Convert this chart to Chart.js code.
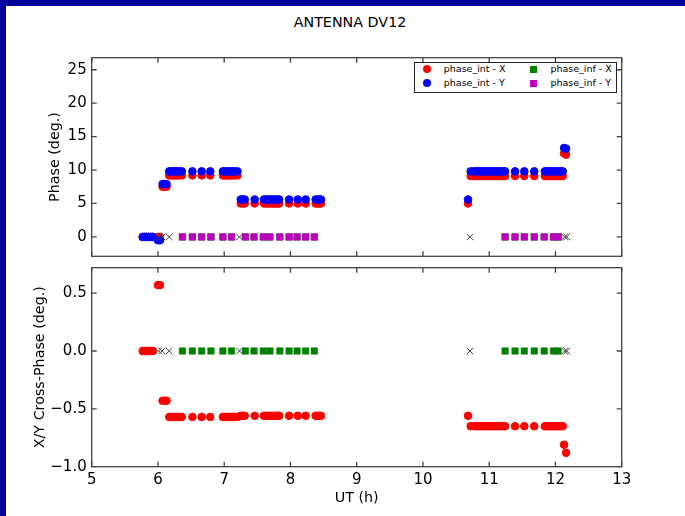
<!DOCTYPE html>
<html>
<head>
<meta charset="utf-8">
<title>ANTENNA DV12</title>
<script src="https://cdn.jsdelivr.net/npm/chart.js@4.4.1/dist/chart.umd.min.js"></script>
<style>
  body { margin: 0; background: #fff; font-family: 'DejaVu Sans', sans-serif; }
  #page { position: relative; width: 685px; height: 516px; overflow: hidden; background: #fff; }
  .edge { position: absolute; background: #00009c; z-index: 5; }
  #title { position: absolute; top: 14px; left: 0; width: 700px; text-align: center; font-size: 14.3px; line-height: 16px; color: #000; }
  canvas { position: absolute; left: 0; }
  #legend { position: absolute; left: 414px; top: 62px; width: 203px; height: 31px; box-sizing: border-box;
            border: 1.5px solid #222; background: #fff; z-index: 3; }
  #legend .mark { position: absolute; }
  #legend .txt { position: absolute; font-size: 9.5px; line-height: 12px; color: #000; white-space: nowrap; }
</style>
</head>
<body>
<div id="page">
  <div class="edge" style="left:0;top:0;width:685px;height:6px"></div>
  <div class="edge" style="left:0;top:0;width:6px;height:516px"></div>
  <div id="title">ANTENNA DV12</div>
  <canvas id="phaseChart" width="685" height="262" style="top:0"></canvas>
  <canvas id="crossChart" width="685" height="254" style="top:262px"></canvas>
  <div id="legend"></div>
</div>
<script>
// axis ticks
const xTicks = [5, 6, 7, 8, 9, 10, 11, 12, 13];
const phaseTicks = [0, 5, 10, 15, 20, 25];
const crossTicks = [-1.0, -0.5, 0.0, 0.5];

// interferometric solutions (UT hours)
const intTimes = [
  5.77, 5.80, 5.83, 5.86, 5.89, 5.92,
  6.00, 6.03,
  6.07, 6.10, 6.13,
  6.17, 6.20, 6.23, 6.26, 6.29, 6.32, 6.36,
  6.52, 6.66, 6.79,
  6.98, 7.01, 7.04, 7.07, 7.10, 7.13, 7.16, 7.20,
  7.25, 7.28, 7.31,
  7.46,
  7.60, 7.63, 7.66, 7.69, 7.72, 7.75, 7.78, 7.81, 7.83,
  7.98, 8.11, 8.23,
  8.38, 8.41, 8.44, 8.46,
  10.68,
  10.72, 10.77, 10.80, 10.83, 10.86, 10.89, 10.92, 10.95, 10.98, 11.01, 11.04, 11.07, 11.10, 11.13, 11.16, 11.19, 11.22, 11.24,
  11.39, 11.53, 11.68,
  11.84, 11.87, 11.90, 11.93, 11.96, 11.99, 12.02, 12.05, 12.08, 12.11,
  12.13, 12.16
];
const phaseIntX = [
  0, 0, 0, 0, 0, 0,
  0, 0,
  7.5, 7.5, 7.5,
  9.2, 9.2, 9.2, 9.2, 9.2, 9.2, 9.2,
  9.2, 9.2, 9.2,
  9.2, 9.2, 9.2, 9.2, 9.2, 9.2, 9.2, 9.2,
  5.0, 5.0, 5.0,
  5.0,
  5.0, 5.0, 5.0, 5.0, 5.0, 5.0, 5.0, 5.0, 5.0,
  5.0, 5.0, 5.0,
  5.0, 5.0, 5.0, 5.0,
  5.0,
  9.1, 9.1, 9.1, 9.1, 9.1, 9.1, 9.1, 9.1, 9.1, 9.1, 9.1, 9.1, 9.1, 9.1, 9.1, 9.1, 9.1, 9.1,
  9.1, 9.1, 9.1,
  9.1, 9.1, 9.1, 9.1, 9.1, 9.1, 9.1, 9.1, 9.1, 9.1,
  12.5, 12.3
];
const phaseIntY = [
  0, 0, 0, 0, 0, 0,
  -0.5, -0.5,
  7.9, 7.9, 7.9,
  9.8, 9.8, 9.8, 9.8, 9.8, 9.8, 9.8,
  9.8, 9.8, 9.8,
  9.8, 9.8, 9.8, 9.8, 9.8, 9.8, 9.8, 9.8,
  5.6, 5.6, 5.6,
  5.6,
  5.6, 5.6, 5.6, 5.6, 5.6, 5.6, 5.6, 5.6, 5.6,
  5.6, 5.6, 5.6,
  5.6, 5.6, 5.6, 5.6,
  5.6,
  9.8, 9.8, 9.8, 9.8, 9.8, 9.8, 9.8, 9.8, 9.8, 9.8, 9.8, 9.8, 9.8, 9.8, 9.8, 9.8, 9.8, 9.8,
  9.8, 9.8, 9.8,
  9.8, 9.8, 9.8, 9.8, 9.8, 9.8, 9.8, 9.8, 9.8, 9.8,
  13.3, 13.2
];
const crossInt = [
  0, 0, 0, 0, 0, 0,
  0.57, 0.57,
  -0.43, -0.43, -0.43,
  -0.57, -0.57, -0.57, -0.57, -0.57, -0.57, -0.57,
  -0.57, -0.57, -0.57,
  -0.57, -0.57, -0.57, -0.57, -0.57, -0.57, -0.57, -0.57,
  -0.56, -0.56, -0.56,
  -0.56,
  -0.56, -0.56, -0.56, -0.56, -0.56, -0.56, -0.56, -0.56, -0.56,
  -0.56, -0.56, -0.56,
  -0.56, -0.56, -0.56, -0.56,
  -0.56,
  -0.65, -0.65, -0.65, -0.65, -0.65, -0.65, -0.65, -0.65, -0.65, -0.65, -0.65, -0.65, -0.65, -0.65, -0.65, -0.65, -0.65, -0.65,
  -0.65, -0.65, -0.65,
  -0.65, -0.65, -0.65, -0.65, -0.65, -0.65, -0.65, -0.65, -0.65, -0.65,
  -0.81, -0.88
];

// inferred solutions
const infTimes = [
  6.37, 6.52, 6.66, 6.80, 6.98, 7.11, 7.32, 7.45, 7.59, 7.69, 7.84, 7.98, 8.10, 8.23, 8.36,
  11.24, 11.39, 11.53, 11.68, 11.83, 11.97, 12.04
];
const phaseInfX = [0, 0, 0, 0, 0, 0, 0, 0, 0, 0, 0, 0, 0, 0, 0, 0, 0, 0, 0, 0, 0, 0];
const phaseInfY = [0, 0, 0, 0, 0, 0, 0, 0, 0, 0, 0, 0, 0, 0, 0, 0, 0, 0, 0, 0, 0, 0];
const crossInf = [0, 0, 0, 0, 0, 0, 0, 0, 0, 0, 0, 0, 0, 0, 0, 0, 0, 0, 0, 0, 0, 0];

// reference scans (no solution)
const refTimes = [6.01, 6.06, 6.17, 7.23, 10.71, 12.14, 12.17];
const refPhase = [0, 0, 0, 0, 0, 0, 0];
const refCross = [0, 0, 0, 0, 0, 0, 0];

const intX = { label: 'phase_int - X', color: '#ff0000', style: 'circle', radius: 3.8, border: 1 };
const intY = { label: 'phase_int - Y', color: '#0000ff', style: 'circle', radius: 3.8, border: 1 };
const infX = { label: 'phase_inf - X', color: '#008000', style: 'rect', radius: 4.6, border: 0.5 };
const infY = { label: 'phase_inf - Y', color: '#bf00bf', style: 'rect', radius: 4.6, border: 0.5 };
const ref = { label: 'ref', color: '#444444', style: 'crossRot', radius: 4.7, border: 1 };

function pts(xs, ys) {
  return xs.map((x, i) => ({ x: x, y: ys[i] }));
}

function dataset(s, xs, ys, order) {
  return {
    label: s.label,
    data: pts(xs, ys),
    order: order,
    showLine: false,
    pointStyle: s.style,
    pointRadius: s.radius,
    pointHoverRadius: s.radius,
    pointBorderWidth: s.border,
    backgroundColor: s.color,
    borderColor: s.color
  };
}

// box around the plot area with inward ticks on all four sides
const framePlugin = {
  id: 'frame',
  afterDatasetsDraw(chart) {
    const { ctx, chartArea: a, scales: { x, y } } = chart;
    const len = 5;
    ctx.save();
    ctx.strokeStyle = '#444';
    ctx.lineWidth = 1.3;
    ctx.beginPath();
    x.ticks.forEach(t => {
      const px = x.getPixelForValue(t.value);
      ctx.moveTo(px, a.bottom); ctx.lineTo(px, a.bottom - len);
      ctx.moveTo(px, a.top); ctx.lineTo(px, a.top + len);
    });
    y.ticks.forEach(t => {
      const py = y.getPixelForValue(t.value);
      ctx.moveTo(a.left, py); ctx.lineTo(a.left + len, py);
      ctx.moveTo(a.right, py); ctx.lineTo(a.right - len, py);
    });
    ctx.stroke();
    ctx.strokeRect(a.left, a.top, a.right - a.left, a.bottom - a.top);
    ctx.restore();
  }
};

Chart.defaults.font.family = "'DejaVu Sans', sans-serif";
Chart.defaults.color = '#000';

function makePanel(id, datasets, o) {
  return new Chart(document.getElementById(id), {
    type: 'scatter',
    data: { datasets: datasets },
    options: {
      animation: false,
      responsive: false,
      devicePixelRatio: 1,
      events: [],
      layout: { padding: o.padding },
      plugins: { legend: { display: false }, tooltip: { enabled: false } },
      scales: {
        x: {
          type: 'linear',
          min: 5,
          max: 13,
          afterBuildTicks: s => { s.ticks = xTicks.map(v => ({ value: v })); },
          afterFit: s => { s.height = o.xHeight; s.paddingLeft = 0; s.paddingRight = 0; },
          grid: { display: false, drawTicks: false },
          border: { display: false },
          ticks: { display: o.showX, padding: 4, font: { size: 15 } },
          title: { display: o.showX, text: 'UT (h)', font: { size: 14.3 }, padding: { top: 0, bottom: 9 } }
        },
        y: {
          type: 'linear',
          min: o.yMin,
          max: o.yMax,
          afterBuildTicks: s => { s.ticks = o.yTicks.map(v => ({ value: v })); },
          afterFit: s => { s.width = 91.7; s.paddingTop = 0; s.paddingBottom = 0; },
          grid: { display: false, drawTicks: false },
          border: { display: false },
          ticks: { padding: 5, font: { size: 15 }, callback: o.fmt },
          title: { display: true, text: o.yTitle, font: { size: 14.3 }, padding: { top: o.titlePad, bottom: 0 } }
        }
      }
    },
    plugins: [framePlugin]
  });
}

makePanel('phaseChart', [
  dataset(intX, intTimes, phaseIntX, 4),
  dataset(intY, intTimes, phaseIntY, 3),
  dataset(infX, infTimes, phaseInfX, 2),
  dataset(infY, infTimes, phaseInfY, 1),
  dataset(ref, refTimes, refPhase, 0)
], {
  padding: { left: 0, right: 63.3, top: 57.7, bottom: 5.3 },
  xHeight: 0,
  showX: false,
  yMin: -2.9,
  yMax: 26.8,
  yTicks: phaseTicks,
  fmt: v => String(v),
  yTitle: 'Phase (deg.)',
  titlePad: 47
});

makePanel('crossChart', [
  dataset(intX, intTimes, crossInt, 4),
  dataset(infX, infTimes, crossInf, 2),
  dataset(ref, refTimes, refCross, 0)
], {
  padding: { left: 0, right: 63.3, top: 5.3, bottom: 0 },
  xHeight: 49.3,
  showX: true,
  yMin: -1.0,
  yMax: 0.72,
  yTicks: crossTicks,
  fmt: v => (v < 0 ? '\u2212' : '') + Math.abs(v).toFixed(1),
  yTitle: 'X/Y Cross-Phase (deg.)',
  titlePad: 32
});

// legend in the upper right of the phase panel
const legend = document.getElementById('legend');
[intX, intY, infX, infY].forEach((s, i) => {
  const col = Math.floor(i / 2), row = i % 2;
  const cx = 12.2 + col * 106.6, cy = 6 + row * 14;
  const m = document.createElement('span');
  m.className = 'mark';
  const d = s.style === 'circle' ? 8 : 7;
  m.style.width = d + 'px';
  m.style.height = d + 'px';
  m.style.left = (cx - d / 2) + 'px';
  m.style.top = (cy - d / 2) + 'px';
  m.style.background = s.color;
  if (s.style === 'circle') m.style.borderRadius = '50%';
  legend.appendChild(m);
  const t = document.createElement('span');
  t.className = 'txt';
  t.textContent = s.label;
  t.style.left = (cx + 16.6) + 'px';
  t.style.top = (cy - 6) + 'px';
  legend.appendChild(t);
});
</script>
</body>
</html>
